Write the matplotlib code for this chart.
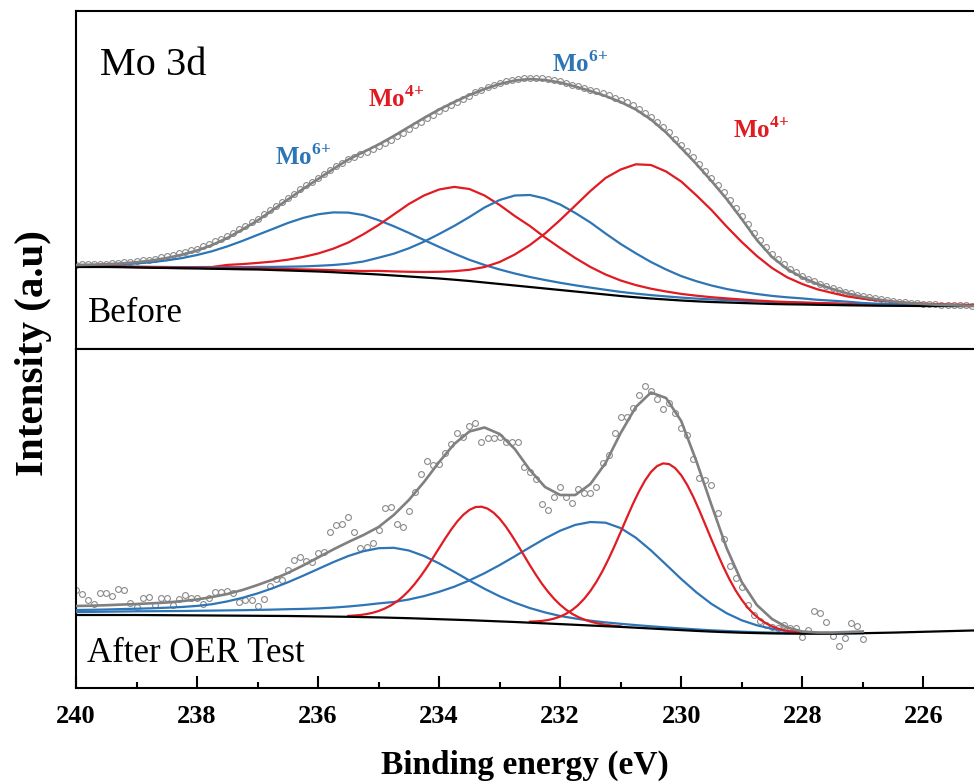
"""XPS Mo 3d spectra before / after OER test, fitted components (two stacked panels)."""

import matplotlib

matplotlib.use("Agg")
import matplotlib.pyplot as plt

plt.rcParams["font.family"] = ["Liberation Serif", "DejaVu Serif"]
plt.rcParams["mathtext.fontset"] = "custom"
plt.rcParams["mathtext.rm"] = "Liberation Serif"
plt.rcParams["mathtext.bf"] = "Liberation Serif:bold"

BLUE = "#2e75b6"
RED = "#e01b22"
GREY = "#808080"
GREY_PTS = "#8a8a8a"

# binding energy of the fit curves (eV)
E_FIT = [
    240.0, 239.75, 239.5, 239.25, 239.0, 238.75, 238.5, 238.25, 238.0, 237.75,
    237.5, 237.25, 237.0, 236.75, 236.5, 236.25, 236.0, 235.75, 235.5, 235.25,
    235.0, 234.75, 234.5, 234.25, 234.0, 233.75, 233.5, 233.25, 233.0, 232.75,
    232.5, 232.25, 232.0, 231.75, 231.5, 231.25, 231.0, 230.75, 230.5, 230.25,
    230.0, 229.75, 229.5, 229.25, 229.0, 228.75, 228.5, 228.25, 228.0, 227.75,
    227.5, 227.25, 227.0, 226.75, 226.5, 226.25, 226.0, 225.75, 225.5, 225.25, 225.0,
]

# binding energy of the measured points (eV)
E_SCAN = [
    240.0, 239.9, 239.8, 239.7, 239.6, 239.5, 239.4, 239.3, 239.2, 239.1,
    239.0, 238.9, 238.8, 238.7, 238.6, 238.5, 238.4, 238.3, 238.2, 238.1,
    238.0, 237.9, 237.8, 237.7, 237.6, 237.5, 237.4, 237.3, 237.2, 237.1,
    237.0, 236.9, 236.8, 236.7, 236.6, 236.5, 236.4, 236.3, 236.2, 236.1,
    236.0, 235.9, 235.8, 235.7, 235.6, 235.5, 235.4, 235.3, 235.2, 235.1,
    235.0, 234.9, 234.8, 234.7, 234.6, 234.5, 234.4, 234.3, 234.2, 234.1,
    234.0, 233.9, 233.8, 233.7, 233.6, 233.5, 233.4, 233.3, 233.2, 233.1,
    233.0, 232.9, 232.8, 232.7, 232.6, 232.5, 232.4, 232.3, 232.2, 232.1,
    232.0, 231.9, 231.8, 231.7, 231.6, 231.5, 231.4, 231.3, 231.2, 231.1,
    231.0, 230.9, 230.8, 230.7, 230.6, 230.5, 230.4, 230.3, 230.2, 230.1,
    230.0, 229.9, 229.8, 229.7, 229.6, 229.5, 229.4, 229.3, 229.2, 229.1,
    229.0, 228.9, 228.8, 228.7, 228.6, 228.5, 228.4, 228.3, 228.2, 228.1,
    228.0, 227.9, 227.8, 227.7, 227.6, 227.5, 227.4, 227.3, 227.2, 227.1,
    227.0, 226.9, 226.8, 226.7, 226.6, 226.5, 226.4, 226.3, 226.2, 226.1,
    226.0, 225.9, 225.8, 225.7, 225.6, 225.5, 225.4, 225.3, 225.2, 225.1, 225.0,
]

# ---- "Before" panel (a.u.) ----
TOP_SCAN = [
    84.5, 84.8, 84.7, 85.2, 85.3, 85.5, 85.9, 86.3, 86.8, 87.4,
    87.9, 88.7, 89.5, 90.5, 91.6, 92.7, 94.1, 95.6, 97.3, 99.0,
    100.5, 102.8, 105.2, 107.7, 110.3, 113.0, 116.5, 120.0, 123.5, 127.0,
    130.5, 134.8, 138.8, 142.9, 147.0, 151.2, 155.4, 159.6, 163.6, 167.5,
    171.4, 175.3, 179.2, 182.8, 186.3, 189.7, 192.0, 194.8, 197.5, 200.3,
    203.0, 206.2, 209.5, 212.9, 216.5, 220.0, 223.6, 227.1, 230.8, 234.2,
    237.6, 240.8, 243.9, 247.0, 250.0, 253.5, 256.6, 259.4, 261.9, 264.2,
    266.3, 267.8, 269.2, 270.3, 270.9, 271.4, 271.1, 270.6, 269.7, 268.6,
    267.6, 266.1, 264.5, 263.0, 261.3, 259.5, 257.7, 255.8, 253.8, 251.5,
    249.2, 246.6, 243.8, 240.3, 236.5, 232.5, 227.4, 222.3, 216.6, 210.5,
    204.3, 198.0, 191.6, 185.0, 178.2, 171.3, 164.2, 157.0, 149.4, 141.3,
    133.2, 124.8, 116.3, 108.6, 101.6, 94.8, 89.8, 84.8, 80.5, 76.8,
    73.2, 70.4, 67.6, 65.2, 63.1, 61.0, 59.1, 57.3, 55.6, 54.2,
    52.7, 51.6, 50.6, 49.6, 48.8, 48.0, 47.3, 46.7, 46.2, 45.8,
    45.4, 45.0, 44.8, 44.4, 44.2, 44.0, 43.8, 43.6, 43.5, 43.3, 43.2,
]
TOP_ENV = [
    84.0, 84.3, 84.8, 85.6, 86.8, 88.5, 91.0, 94.3, 98.5, 104.0,
    111.0, 119.5, 128.5, 139.0, 149.5, 160.0, 170.0, 180.0, 189.5, 197.0,
    204.5, 213.0, 222.0, 231.0, 239.5, 247.0, 254.0, 260.0, 265.0, 268.5,
    270.0, 269.0, 266.5, 262.5, 258.0, 253.0, 247.0, 239.5, 229.5, 216.5,
    201.0, 185.0, 168.0, 150.0, 130.0, 109.0, 92.0, 80.0, 71.5, 65.0,
    60.0, 55.5, 52.0, 49.5, 47.5, 46.0, 45.0, 44.2, 43.7, 43.2, 43.0,
]
TOP_BASE = [
    82.0, 82.0, 82.0, 81.8, 81.5, 81.2, 81.0, 80.7, 80.5, 80.2,
    80.0, 79.7, 79.5, 79.0, 78.5, 78.0, 77.5, 76.8, 76.0, 75.3,
    74.5, 73.5, 72.5, 71.5, 70.5, 69.3, 68.0, 66.5, 65.0, 63.5,
    62.0, 60.5, 59.0, 57.5, 56.0, 54.5, 53.0, 51.7, 50.5, 49.5,
    48.5, 47.7, 47.0, 46.5, 46.0, 45.5, 45.0, 44.7, 44.5, 44.2,
    44.0, 43.7, 43.5, 43.3, 43.2, 43.1, 43.0, 43.0, 43.0, 43.0, 43.0,
]
# component heights above the background
TOP_MO6_A = [
    1.0, 1.4, 2.0, 2.9, 4.1, 5.6, 7.6, 10.2, 13.5, 17.6,
    22.6, 28.4, 34.6, 41.0, 47.5, 53.0, 57.2, 59.8, 60.4, 58.6,
    54.3, 49.3, 43.6, 37.5, 31.6, 26.1, 21.2, 17.5, 14.5, 12.0,
    10.0, 8.5, 7.2, 6.2, 5.4, 4.7, 4.1, 3.7, 3.4, 3.1,
    2.9, 2.7, 2.6, 2.4, 2.3, 2.2, 2.0, 1.9, 1.7, 1.6,
    1.4, 1.3, 1.2, 1.1, 1.0, 0.9, 0.8, 0.7, 0.6, 0.5, 0.5,
]
TOP_MO4_A = [
    0.3, 0.35, 0.4, 0.5, 0.6, 0.75, 0.9, 1.1, 1.4, 1.8,
    4.1, 5.2, 6.6, 8.4, 10.8, 14.0, 18.0, 23.5, 30.5, 39.5,
    49.5, 61.0, 72.5, 82.0, 89.0, 92.8, 92.0, 87.0, 79.0, 69.5,
    61.0, 51.0, 42.0, 33.5, 26.0, 20.0, 15.5, 12.2, 9.8, 8.0,
    6.6, 5.6, 4.8, 4.1, 3.5, 3.0, 2.6, 2.3, 2.0, 1.8,
    1.6, 1.4, 1.3, 1.1, 1.0, 0.9, 0.8, 0.7, 0.7, 0.6, 0.6,
]
TOP_MO6_B = [
    0.5, 0.55, 0.6, 0.7, 0.8, 0.9, 1.0, 1.2, 1.4, 1.6,
    1.9, 2.2, 2.6, 3.1, 3.8, 4.6, 5.7, 7.2, 9.3, 12.2,
    16.8, 21.8, 28.2, 35.8, 44.5, 53.8, 64.0, 75.0, 84.0, 90.0,
    92.0, 90.0, 85.5, 78.5, 70.5, 61.0, 52.0, 44.0, 36.5, 30.0,
    24.4, 20.1, 16.5, 13.5, 11.3, 9.5, 8.1, 7.0, 6.1, 5.0,
    4.3, 3.6, 2.5, 2.0, 1.6, 1.3, 1.0, 0.8, 0.7, 0.6, 0.5,
]
TOP_MO4_B = [
    0.3, 0.3, 0.35, 0.4, 0.45, 0.5, 0.55, 0.6, 0.7, 0.8,
    0.9, 1.0, 1.1, 1.25, 1.4, 1.6, 1.8, 2.0, 2.3, 2.7,
    3.6, 4.1, 4.7, 5.5, 6.7, 8.5, 11.2, 15.5, 22.0, 31.0,
    42.0, 55.0, 70.0, 86.0, 102.0, 116.5, 126.5, 133.0, 133.5, 128.0,
    119.0, 106.0, 92.0, 76.0, 61.0, 47.5, 36.0, 27.0, 20.5, 15.5,
    12.0, 8.8, 6.8, 5.2, 4.0, 3.0, 2.3, 1.8, 1.4, 1.1, 0.9,
]

# ---- "After OER Test" panel (a.u.), measured 240 -> 227 eV ----
BOT_SCAN = [
    98.0, 93.7, 88.0, 83.7, 94.7, 95.3, 92.0, 99.3, 98.0, 84.7,
    81.3, 90.0, 90.7, 82.7, 90.0, 90.0, 83.0, 89.3, 93.0, 89.7,
    89.7, 83.7, 90.0, 96.0, 96.3, 97.3, 95.3, 85.7, 88.0, 88.0,
    82.0, 88.7, 102.0, 108.7, 107.7, 118.0, 128.0, 130.7, 127.3, 126.3,
    134.7, 136.3, 155.7, 163.0, 163.7, 171.3, 156.3, 139.7, 141.3, 145.3,
    158.0, 179.7, 181.3, 164.0, 161.3, 177.3, 196.3, 214.0, 227.3, 223.0,
    223.7, 234.7, 244.0, 254.7, 251.3, 262.0, 264.7, 246.3, 249.7, 250.3,
    251.3, 246.3, 245.7, 246.3, 221.3, 216.3, 208.7, 184.0, 178.0, 190.7,
    200.7, 190.7, 185.3, 198.7, 194.7, 194.7, 200.7, 224.7, 233.0, 255.3,
    270.7, 270.7, 279.7, 293.0, 302.0, 297.3, 288.7, 279.0, 285.3, 275.3,
    259.7, 253.0, 228.7, 210.3, 208.0, 202.7, 174.7, 149.3, 122.0, 110.0,
    100.7, 83.0, 73.0, 67.0, 63.0, 61.0, 60.0, 63.0, 59.7, 59.7,
    50.7, 58.0, 77.3, 75.3, 65.7, 52.3, 42.0, 50.3, 65.3, 62.0, 49.3,
]
BOT_ENV = [
    82.0, 82.3, 82.8, 83.4, 84.0, 84.7, 85.5, 86.9, 88.5, 91.0,
    94.0, 98.0, 103.0, 108.5, 115.0, 122.5, 130.5, 138.5, 146.0, 153.0,
    161.0, 173.0, 188.0, 206.0, 226.0, 244.0, 256.5, 260.5, 254.0, 239.0,
    218.0, 201.0, 193.0, 193.0, 204.0, 225.0, 255.0, 281.0, 295.5, 290.0,
    267.0, 227.0, 183.0, 140.0, 106.0, 83.0, 69.0, 60.5, 56.5, 55.5,
    55.5, 56.0, 56.5,
]
BOT_BASE = [
    73.0, 73.0, 73.0, 73.0, 73.0, 72.9, 72.8, 72.7, 72.6, 72.5,
    72.4, 72.3, 72.2, 72.1, 72.0, 71.8, 71.6, 71.4, 71.2, 70.9,
    70.6, 70.2, 69.8, 69.3, 68.8, 68.3, 67.8, 67.2, 66.6, 66.0,
    65.3, 64.6, 63.9, 63.2, 62.5, 61.8, 61.1, 60.3, 59.5, 58.7,
    57.9, 57.1, 56.4, 55.8, 55.3, 54.9, 54.6, 54.4, 54.3, 54.3,
    54.4, 54.6, 54.8, 55.1, 55.4, 55.8, 56.2, 56.6, 57.0, 57.4, 57.8,
]
# broad Mo6+ components: heights above the background, 240 -> 227 eV
BOT_MO6_A = [
    5.0, 5.2, 5.5, 5.9, 6.3, 6.8, 7.5, 8.3, 9.5, 11.3,
    14.2, 17.9, 22.4, 27.7, 33.7, 40.4, 47.4, 54.4, 60.8, 65.9,
    69.2, 70.0, 67.7, 62.7, 55.8, 47.9, 39.7, 32.0, 25.1, 19.3,
    14.6, 11.0, 8.1, 6.3, 4.8, 3.8, 3.1, 2.6, 2.2, 1.9,
    1.7, 1.5, 1.3, 1.2, 1.0, 0.9, 0.8, 0.7, 0.6, 0.5,
    0.5, 0.4, 0.4,
]
BOT_MO6_B = [
    3.0, 3.1, 3.3, 3.5, 3.7, 3.9, 4.1, 4.3, 4.6, 4.9,
    5.2, 5.5, 5.9, 6.3, 6.8, 7.3, 8.0, 9.0, 10.3, 12.0,
    14.0, 15.8, 18.7, 22.6, 27.4, 33.0, 39.8, 47.6, 56.3, 65.7,
    75.4, 84.9, 93.4, 99.9, 103.5, 103.5, 98.8, 90.0, 78.1, 64.7,
    51.1, 38.6, 27.7, 19.0, 12.4, 7.8, 4.6, 2.6, 1.4, 0.7,
    0.3, 0.1, 0.0,
]
# narrow Mo4+ components, read finer (0.1 eV), background included
E_MO4_A = [
    235.5, 235.4, 235.3, 235.2, 235.1, 235.0, 234.9, 234.8, 234.7, 234.6,
    234.5, 234.4, 234.3, 234.2, 234.1, 234.0, 233.9, 233.8, 233.7, 233.6,
    233.5, 233.4, 233.3, 233.2, 233.1, 233.0, 232.9, 232.8, 232.7, 232.6,
    232.5, 232.4, 232.3, 232.2, 232.1, 232.0, 231.9, 231.8, 231.7, 231.6,
    231.5, 231.4, 231.3, 231.2, 231.1, 231.0,
]
BOT_MO4_A = [
    72.1, 72.5, 73.0, 73.9, 75.2, 77.0, 79.4, 82.5, 86.4, 91.4,
    97.3, 104.3, 112.2, 120.9, 130.3, 139.9, 149.5, 158.5, 166.6, 173.2,
    178.1, 180.9, 181.3, 179.4, 175.3, 169.3, 161.6, 152.6, 142.9, 132.8,
    122.7, 113.1, 104.1, 96.2, 89.2, 83.2, 78.2, 74.1, 70.9, 68.4,
    66.4, 64.9, 63.7, 62.8, 62.1, 61.6,
]
E_MO4_B = [
    232.5, 232.4, 232.3, 232.2, 232.1, 232.0, 231.9, 231.8, 231.7, 231.6,
    231.5, 231.4, 231.3, 231.2, 231.1, 231.0, 230.9, 230.8, 230.7, 230.6,
    230.5, 230.4, 230.3, 230.2, 230.1, 230.0, 229.9, 229.8, 229.7, 229.6,
    229.5, 229.4, 229.3, 229.2, 229.1, 229.0, 228.9, 228.8, 228.7, 228.6,
    228.5, 228.4, 228.3, 228.2, 228.1, 228.0,
]
BOT_MO4_B = [
    66.3, 66.6, 67.1, 68.0, 69.4, 71.5, 74.3, 78.1, 83.1, 89.4,
    97.1, 106.3, 117.0, 129.1, 142.2, 156.0, 170.1, 183.8, 196.3, 207.3,
    216.0, 221.9, 224.6, 223.9, 219.9, 212.8, 203.0, 191.1, 177.5, 163.1,
    148.5, 134.3, 120.7, 108.4, 97.5, 88.2, 80.3, 73.9, 68.7, 64.7,
    61.6, 59.4, 57.7, 56.6, 55.8, 55.2,
]

MAJOR_TICKS = [240, 238, 236, 234, 232, 230, 228, 226]
MINOR_TICKS = [239, 237, 235, 233, 231, 229, 227, 225]


def _style(ax, top):
    ax.set_xlim(240, 225.03)
    ax.set_ylim(0, top)
    ax.set_yticks([])
    for s in ax.spines.values():
        s.set_linewidth(1.5)


def _scan(ax, values):
    ax.plot(E_SCAN[:len(values)], values, ls="none", marker="o", ms=4.2,
            mfc="none", mec=GREY_PTS, mew=0.8, zorder=2)


def _component(ax, base, net, color):
    ax.plot(E_FIT[:len(net)], [b + v for b, v in zip(base, net)],
            color=color, lw=1.6, zorder=3)


def _mo(ax, x, y, charge, color):
    ax.text(x, y, r"$\mathbf{Mo}^{\mathbf{%s{+}}}$" % charge, color=color,
            fontsize=18, ha="left", va="baseline")


fig = plt.figure(figsize=(9.74, 7.82), dpi=100)
ax_top = fig.add_axes([76 / 974, 1 - 349 / 782, 906 / 974, 338 / 782])
ax_bot = fig.add_axes([76 / 974, 1 - 688 / 782, 906 / 974, 339 / 782])

# Before
_scan(ax_top, TOP_SCAN)
for net, color in [(TOP_MO6_A, BLUE), (TOP_MO4_A, RED), (TOP_MO6_B, BLUE), (TOP_MO4_B, RED)]:
    _component(ax_top, TOP_BASE, net, color)
ax_top.plot(E_FIT, TOP_BASE, color="black", lw=1.6, zorder=4)
ax_top.plot(E_FIT, TOP_ENV, color=GREY, lw=1.9, zorder=5)
_style(ax_top, 338)
ax_top.set_xticks([])

# After OER test
_scan(ax_bot, BOT_SCAN)
_component(ax_bot, BOT_BASE, BOT_MO6_A, BLUE)
_component(ax_bot, BOT_BASE, BOT_MO6_B, BLUE)
ax_bot.plot(E_MO4_A, BOT_MO4_A, color=RED, lw=1.6, zorder=3)
ax_bot.plot(E_MO4_B, BOT_MO4_B, color=RED, lw=1.6, zorder=3)
ax_bot.plot(E_FIT, BOT_BASE, color="black", lw=1.6, zorder=4)
ax_bot.plot(E_FIT[:len(BOT_ENV)], BOT_ENV, color=GREY, lw=1.9, zorder=5)
_style(ax_bot, 339)
ax_bot.set_xticks(MAJOR_TICKS, [str(t) for t in MAJOR_TICKS],
                  fontsize=19, fontweight="bold")
ax_bot.set_xticks(MINOR_TICKS, minor=True)
ax_bot.tick_params(axis="x", which="major", direction="in", length=9, width=1.5, pad=12)
ax_bot.tick_params(axis="x", which="minor", direction="in", length=4.5, width=1.5)
ax_bot.set_xlim(240, 225.03)

ax_top.text(239.6, 274, "Mo 3d", fontsize=29, ha="left", va="baseline")
ax_top.text(239.8, 27, "Before", fontsize=25, ha="left", va="baseline")
ax_bot.text(239.82, 26, "After OER Test", fontsize=25, ha="left", va="baseline")

_mo(ax_top, 236.71, 184, "6", BLUE)
_mo(ax_top, 235.17, 242, "4", RED)
_mo(ax_top, 232.13, 277, "6", BLUE)
_mo(ax_top, 229.14, 211, "4", RED)

fig.text(0.034, 0.548, "Intensity (a.u)", rotation=90, ha="center", va="center",
         fontsize=29.5, fontweight="bold")
fig.text(525 / 974, 1 - 765 / 782, "Binding energy (eV)", ha="center", va="center",
         fontsize=24, fontweight="bold")

fig.savefig("out.png", dpi=100)
